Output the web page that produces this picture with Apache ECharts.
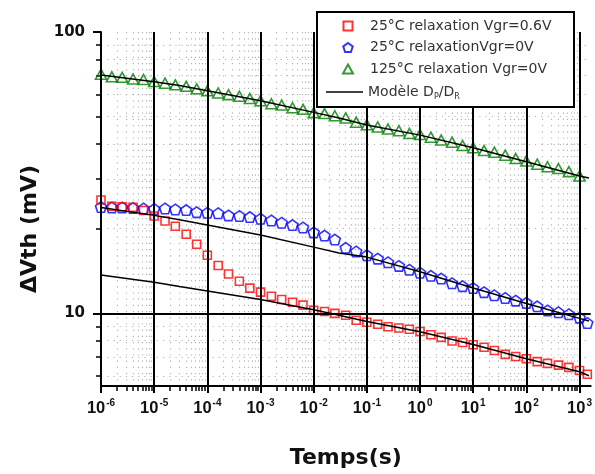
<!DOCTYPE html>
<html>
<head>
<meta charset="utf-8">
<script src="https://cdn.jsdelivr.net/npm/echarts@6/dist/echarts.min.js"></script>
<style>
html,body{margin:0;padding:0;background:#fff;}
#chart{width:595px;height:474px;}
</style>
</head>
<body>
<div id="chart"></div>
<script>
// ---- data ----
const times = [
  1e-6,1.6e-6,2.5e-6,4e-6,6.3e-6,
  1e-5,1.6e-5,2.5e-5,4e-5,6.3e-5,
  1e-4,1.6e-4,2.5e-4,4e-4,6.3e-4,
  1e-3,1.6e-3,2.5e-3,4e-3,6.3e-3,
  1e-2,1.6e-2,2.5e-2,4e-2,6.3e-2,
  1e-1,1.6e-1,2.5e-1,4e-1,6.3e-1,
  1,1.6,2.5,4,6.3,
  10,16,25,40,63,
  100,160,250,400,630,
  1000,1400
];
const red06 = [
  25.3,24.0,23.9,23.8,23.2,
  22.2,21.3,20.4,19.1,17.6,
  16.1,14.8,13.8,13.0,12.3,
  11.9,11.5,11.2,10.95,10.7,
  10.25,10.15,10.0,9.85,9.45,
  9.3,9.15,8.96,8.87,8.78,
  8.62,8.4,8.22,7.98,7.88,
  7.74,7.58,7.38,7.15,7.03,
  6.9,6.74,6.64,6.55,6.43,
  6.27,6.08
];
const blue0 = [
  23.9,23.8,23.8,23.7,23.6,
  23.5,23.6,23.4,23.3,22.9,
  22.8,22.7,22.3,22.2,22.0,
  21.7,21.4,21.0,20.6,20.2,
  19.4,18.9,18.3,17.1,16.6,
  16.1,15.65,15.2,14.75,14.3,
  13.95,13.6,13.3,12.8,12.5,
  12.3,11.9,11.6,11.35,11.1,
  10.9,10.6,10.25,10.1,9.93,
  9.66,9.25
];
const green0 = [
  70.8,69.3,69.0,68.1,67.8,
  66.7,65.8,64.9,64.1,62.8,
  61.8,60.7,59.9,59.1,58.0,
  57.0,55.6,55.0,53.8,53.1,
  51.7,51.3,50.4,49.5,47.8,
  46.8,46.0,45.2,44.6,43.6,
  43.2,42.3,41.3,40.6,39.5,
  38.8,37.9,37.4,36.5,35.5,
  34.8,33.9,33.2,32.7,31.9,
  30.8,null
];
const modelTimes = [1e-6,1e-5,3e-5,1e-4,1e-3,1e-2,3e-2,1e-1,1,10,100,1000,1500];
const modelGreen = [70.3,66.5,64.5,61.8,57.0,51.8,49.5,46.7,43.0,38.8,34.6,30.8,30.3];
const modelBlue  = [23.8,22.3,21.5,20.6,19.0,17.2,16.4,15.85,14.05,12.3,10.85,9.6,9.4];
const modelRed   = [13.7,12.9,12.45,12.0,11.2,10.3,9.85,9.35,8.6,7.75,6.9,6.2,6.0];

const xMajor = [1e-6,1e-5,1e-4,1e-3,1e-2,1e-1,1,10,100,1000];
const yMajor = [10,100];
const xMin = 1e-6, xMax = 1620;
const yMin = 5.52, yMax = 100;

const names = {
  red: '25°C relaxation Vgr=0.6V',
  blue: '25°C relaxationVgr=0V',
  green: '125°C relaxation Vgr=0V',
  model: 'Modèle DP/DR'
};

// minor tick values (2..9 within each decade)
function minorsBetween(lo, hi) {
  const out = [];
  for (let e = Math.floor(Math.log10(lo)); e <= Math.ceil(Math.log10(hi)); e++) {
    for (let k = 2; k <= 9; k++) {
      const v = +(k * Math.pow(10, e)).toPrecision(6);
      if (v > lo && v < hi) out.push(v);
    }
  }
  return out;
}
const xMinor = minorsBetween(xMin, xMax);
const yMinor = minorsBetween(yMin, yMax);

function pairs(xs, ys) {
  const out = [];
  for (let i = 0; i < xs.length; i++) if (ys[i] != null) out.push([xs[i], ys[i]]);
  return out;
}

const chart = echarts.init(document.getElementById('chart'), null, {renderer: 'canvas'});

const dotted = {color: '#b4b4b4', width: 1.2, type: [1.2, 5]};
const legendText = {fontFamily: 'DejaVu Sans', fontSize: 14, color: '#333'};

const option = {
  animation: false,
  backgroundColor: '#fff',
  grid: {left: 101, right: 3, top: 32, bottom: 81, containLabel: false},
  xAxis: [
    {
      type: 'log', min: xMin, max: xMax, position: 'bottom', z: 3,
      axisLine: {show: true, lineStyle: {color: '#000', width: 2}},
      axisTick: {show: true, customValues: xMajor, length: 7, inside: false, lineStyle: {color: '#000', width: 2}},
      axisLabel: {
        customValues: xMajor, margin: 12,
        formatter: function (v) {
          const e = Math.round(Math.log10(v));
          return '{b|10}{s|' + e + '}';
        },
        rich: {
          b: {fontFamily: 'Liberation Sans', fontWeight: 'bold', fontSize: 16.5, color: '#111'},
          s: {fontFamily: 'Liberation Sans', fontWeight: 'bold', fontSize: 10, color: '#111', padding: [0, 0, 10, 1]}
        }
      },
      splitLine: {show: true, lineStyle: {color: '#000', width: 2}},
      name: 'Temps(s)', nameLocation: 'middle', nameGap: 61,
      nameTextStyle: {fontFamily: 'DejaVu Sans', fontWeight: 'bold', fontSize: 22, color: '#111'}
    },
    {
      type: 'log', min: xMin, max: xMax, position: 'bottom', z: 1,
      axisLine: {show: false},
      axisTick: {show: true, customValues: xMinor, length: 5, inside: false, lineStyle: {color: '#000', width: 1.5}},
      axisLabel: {show: false},
      splitLine: {show: true, lineStyle: dotted}
    }
  ],
  yAxis: [
    {
      type: 'log', min: yMin, max: yMax, position: 'left', z: 3,
      axisLine: {show: true, lineStyle: {color: '#000', width: 2}},
      axisTick: {show: true, customValues: yMajor, length: 8, inside: false, lineStyle: {color: '#000', width: 2}},
      axisLabel: {
        customValues: yMajor, margin: 16,
        fontFamily: 'DejaVu Sans', fontWeight: 'bold', fontSize: 15, color: '#111',
        formatter: function (v) { return String(Math.round(v)); }
      },
      splitLine: {show: true, showMaxLine: false, lineStyle: {color: '#000', width: 2}},
      name: 'ΔVth (mV)', nameLocation: 'middle', nameGap: 60, nameRotate: 90,
      nameTextStyle: {fontFamily: 'DejaVu Sans', fontWeight: 'bold', fontSize: 22, color: '#111', padding: [0, 40, 0, 0]}
    },
    {
      type: 'log', min: yMin, max: yMax, position: 'left', z: 1,
      axisLine: {show: false},
      axisTick: {show: true, customValues: yMinor, length: 5, inside: false, lineStyle: {color: '#000', width: 1.5}},
      axisLabel: {show: false},
      splitLine: {show: true, lineStyle: dotted}
    }
  ],
  legend: [
    {
      data: [names.red, names.blue, names.green],
      orient: 'vertical', left: 342, top: 19, padding: 0, itemGap: 7.5,
      itemWidth: 34, itemHeight: 9, symbolKeepAspect: true,
      textStyle: legendText, selectedMode: false, z: 6
    },
    {
      data: [{name: names.model, icon: 'rect'}],
      orient: 'vertical', left: 326, top: 85, padding: 0,
      itemWidth: 37, itemHeight: 1.6,
      itemStyle: {color: '#000', borderWidth: 0},
      selectedMode: false, z: 6,
      formatter: function () { return '{n|Modèle D}{s|P}{n|/D}{s|R}'; },
      textStyle: Object.assign({}, legendText, {
        rich: {
          n: legendText,
          s: {fontFamily: 'DejaVu Sans', fontSize: 8, color: '#333', padding: [9, 0, 0, 0]}
        }
      })
    }
  ],
  graphic: [
    {
      type: 'rect', z: 5,
      shape: {x: 317, y: 12, width: 257, height: 95},
      style: {fill: '#fff', stroke: '#000', lineWidth: 2}
    }
  ],
  series: [
    {
      name: names.blue, type: 'scatter', data: pairs(times, blue0),
      symbol: 'path://M5,0L10,3.63L8.09,9.51L1.91,9.51L0,3.63Z', symbolSize: [11, 10.5],
      itemStyle: {color: 'rgba(255,255,255,0)', borderColor: '#0000ff', borderWidth: 1.6}, z: 2
    },
    {
      name: names.red, type: 'scatter', data: pairs(times, red06),
      symbol: 'path://M0,0L10,0L10,10L0,10Z', symbolSize: 8,
      itemStyle: {color: 'rgba(255,255,255,0)', borderColor: '#ff0000', borderWidth: 1.6}, z: 2
    },
    {
      name: names.green, type: 'scatter', data: pairs(times, green0),
      symbol: 'path://M5,0L10,9L0,9Z', symbolSize: [11, 10],
      itemStyle: {color: 'rgba(255,255,255,0)', borderColor: '#008000', borderWidth: 1.6}, z: 2
    },
    {
      name: names.model, type: 'line', data: pairs(modelTimes, modelGreen),
      symbol: 'none', lineStyle: {color: '#000', width: 1.5}, itemStyle: {color: '#000'}, z: 3
    },
    {
      name: names.model, type: 'line', data: pairs(modelTimes, modelBlue),
      symbol: 'none', lineStyle: {color: '#000', width: 1.5}, itemStyle: {color: '#000'}, z: 3
    },
    {
      name: names.model, type: 'line', data: pairs(modelTimes, modelRed),
      symbol: 'none', lineStyle: {color: '#000', width: 1.5}, itemStyle: {color: '#000'}, z: 3
    }
  ]
};
chart.setOption(option);
</script>
</body>
</html>
